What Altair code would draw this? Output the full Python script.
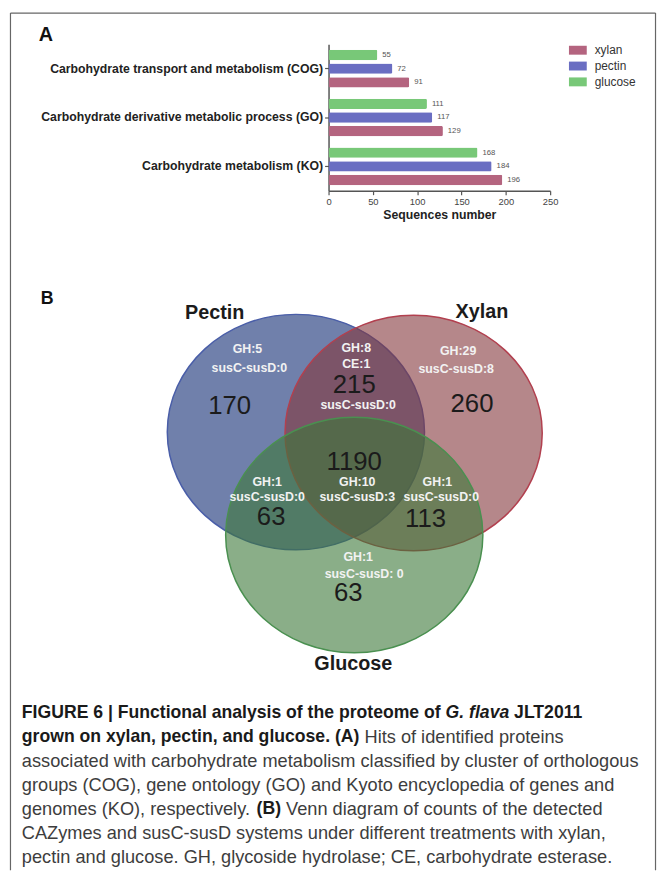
import altair as alt
import pandas as pd

# ---------------- values ----------------
categories = [
    "Carbohydrate transport and metabolism (COG)",
    "Carbohydrate derivative metabolic process (GO)",
    "Carbohydrate metabolism (KO)",
]
series_names = ["xylan", "pectin", "glucose"]
xylan_counts = [91, 129, 196]
pectin_counts = [72, 117, 184]
glucose_counts = [55, 111, 168]
x_tick_values = [0, 50, 100, 150, 200, 250]
x_axis_title = "Sequences number"

set_names = ["Pectin", "Xylan", "Glucose"]
region_counts = [170, 215, 260, 1190, 63, 113, 63]          # P, PX, X, PXG, PG, XG, G
region_gh = ["GH:5", "GH:8", "GH:29", "GH:10", "GH:1", "GH:1", "GH:1"]
region_ce = ["", "CE:1", "", "", "", "", ""]
region_sus = ["susC-susD:0", "susC-susD:0", "susC-susD:8", "susC-susD:3",
              "susC-susD:0", "susC-susD:0", "susC-susD: 0"]

panel_letters = ["A", "B"]

caption_lines = [
    [("FIGURE 6 | Functional analysis of the proteome of ", "b"), ("G. flava", "bi"), (" JLT2011", "b")],
    [("grown on xylan, pectin, and glucose. (A)", "b"), (" Hits of identified proteins", "r")],
    [("associated with carbohydrate metabolism classified by cluster of orthologous", "r")],
    [("groups (COG), gene ontology (GO) and Kyoto encyclopedia of genes and", "r")],
    [("genomes (KO), respectively. ", "r"), ("(B)", "b"), (" Venn diagram of counts of the detected", "r")],
    [("CAZymes and susC-susD systems under different treatments with xylan,", "r")],
    [("pectin and glucose. GH, glycoside hydrolase; CE, carbohydrate esterase.", "r")],
]

# ---------------- layout & style ----------------
OFF = 8
W, H = 656, 867


def c(v):
    return v - OFF


FONT = "Liberation Sans"
bar_colors = ["#b4647f", "#6a6ec2", "#78c878"]
BAR_X_RANGE = [c(332), c(556)]
BAR_Y_RANGE = [c(40), c(188)]

venn_centers = [(299, 432), (418, 433), (358, 536)]
venn_rx, venn_ry = 130, 119
venn_fill = ["#112b73", "#84373c", "#3c7839"]
venn_stroke = ["#4a5ea8", "#b2404f", "#4a9050"]
set_label_pos = [(217, 312), (487, 311), (357, 666)]
count_pos = [(232, 406), (358, 384), (477, 404), (358, 462), (274, 518), (430, 520), (352, 595)]
gh_pos = [(250, 348), (360, 347), (463, 350), (361, 482), (270, 482), (442, 482), (362, 558)]
ce_pos = [None, (360, 363), None, None, None, None, None]
sus_pos = [(252, 367), (362, 405), (461, 368), (361, 498), (270, 498), (446, 498), (368, 575)]
letter_pos = [(39, 31, 20), (41, 298, 18)]

CAP_X0, CAP_Y0, CAP_DY = 22, 716, 24.2
CAP_REG_SIZE, CAP_BOLD_SIZE = 18.4, 17.8

# Arial / Liberation Sans advance widths (1/1000 em) for placing caption runs
_lo = "abcdefghijklmnopqrstuvwxyz"
_up = "ABCDEFGHIJKLMNOPQRSTUVWXYZ"
_REG = dict(zip(_lo, [556, 556, 500, 556, 556, 278, 556, 556, 222, 222, 500, 222, 833,
                      556, 556, 556, 556, 333, 500, 278, 556, 500, 722, 500, 500, 500]))
_REG.update(zip(_up, [667, 667, 722, 722, 667, 611, 778, 722, 278, 500, 667, 556, 833,
                      722, 778, 667, 778, 722, 667, 611, 722, 667, 944, 667, 667, 611]))
_REG.update({" ": 278, ".": 278, ",": 278, "(": 333, ")": 333, "-": 333, ":": 278, ";": 278, "|": 260})
_BOLD = dict(zip(_lo, [556, 611, 556, 611, 556, 333, 611, 611, 278, 278, 556, 278, 889,
                       611, 611, 611, 611, 389, 556, 333, 611, 556, 778, 556, 556, 500]))
_BOLD.update(zip(_up, [722, 722, 722, 722, 667, 611, 778, 722, 278, 556, 722, 611, 833,
                       722, 778, 667, 778, 722, 667, 611, 722, 667, 944, 667, 667, 611]))
_BOLD.update({" ": 278, ".": 278, ",": 278, "(": 333, ")": 333, "-": 333, ":": 333, ";": 333, "|": 280})
for _d in "0123456789":
    _REG[_d] = 556
    _BOLD[_d] = 556


def text_width(s, style):
    table = _REG if style == "r" else _BOLD
    size = CAP_REG_SIZE if style == "r" else CAP_BOLD_SIZE
    return sum(table.get(ch, 556) for ch in s) * size / 1000.0


# ---------------- scales ----------------
px_x = alt.Scale(domain=[0, W], range=[0, W], nice=False, zero=False)
px_y = alt.Scale(domain=[0, H], range=[0, H], nice=False, zero=False)

# ---------------- panel A: grouped bars ----------------
rows = []
for i, cat in enumerate(categories):
    for s, vals in zip(series_names, [xylan_counts, pectin_counts, glucose_counts]):
        rows.append({"category": cat, "series": s, "value": vals[i]})
bars_df = pd.DataFrame(rows)

y_enc = alt.Y(
    "category:N", sort=categories,
    scale=alt.Scale(domain=categories, range=BAR_Y_RANGE, paddingInner=0.2, paddingOuter=0.1),
    axis=alt.Axis(title=None, offset=-BAR_X_RANGE[0], labelFont=FONT, labelFontSize=12.4,
                  labelFontWeight="bold", labelColor="#222", labelLimit=400, tickSize=4,
                  tickColor="#555", tickWidth=1.2, domainColor="#555", domainWidth=1.5,
                  labelPadding=2, grid=False),
)
yoff_enc = alt.YOffset(
    "series:N", sort=["glucose", "pectin", "xylan"],
    scale=alt.Scale(domain=["glucose", "pectin", "xylan"], paddingInner=0.25, paddingOuter=0.05),
)
x_enc = alt.X(
    "value:Q",
    scale=alt.Scale(domain=[0, 250], range=BAR_X_RANGE, nice=False, zero=True),
    axis=alt.Axis(values=x_tick_values, offset=BAR_Y_RANGE[1] - H, title=x_axis_title,
                  titleFont=FONT, titleFontSize=12.4, titleFontWeight="bold", titleColor="#222",
                  titlePadding=3, labelFont=FONT, labelFontSize=9.5, labelColor="#444",
                  labelFlush=False, labelPadding=2, tickSize=4, tickColor="#555", tickWidth=1.2,
                  domainColor="#555", domainWidth=1.5, grid=False),
)
color_enc = alt.Color(
    "series:N",
    scale=alt.Scale(domain=series_names, range=bar_colors),
    legend=alt.Legend(orient="none", legendX=c(576.5), legendY=c(38.5), title=None,
                      symbolType="M-1.2,-0.6H1.2V0.6H-1.2Z", symbolSize=225,
                      symbolStrokeWidth=0, symbolOpacity=1, labelFont=FONT,
                      labelFontSize=12, labelColor="#333", rowPadding=2,
                      labelOffset=9.5, padding=0),
)

bars = alt.Chart(bars_df).mark_bar(cornerRadius=1.5).encode(
    x=x_enc, y=y_enc, yOffset=yoff_enc, color=color_enc
)
bar_labels = alt.Chart(bars_df).mark_text(
    align="left", baseline="middle", dx=5, fontSize=7.8, color="#555", font=FONT
).encode(x=alt.X("value:Q"), y=alt.Y("category:N", sort=categories),
         yOffset=alt.YOffset("series:N", sort=["glucose", "pectin", "xylan"]), text="value:Q")

panel_a = alt.layer(bars, bar_labels)

# ---------------- panel B: Venn diagram ----------------
ratio = venn_ry / venn_rx
ELLIPSE = f"M-1,0A1,{ratio:.4f},0,1,0,1,0A1,{ratio:.4f},0,1,0,-1,0Z"
sets_df = pd.DataFrame({
    "name": set_names,
    "x": [c(p[0]) for p in venn_centers],
    "y": [c(p[1]) for p in venn_centers],
    "fill": venn_fill,
    "stroke": venn_stroke,
    "order": [0, 1, 2],
})
ellipses = alt.Chart(sets_df).mark_point(
    shape=ELLIPSE, filled=True, size=(2 * venn_rx) ** 2, opacity=1,
    fillOpacity=0.6, strokeOpacity=1, strokeWidth=1.5,
).encode(
    x=alt.X("x:Q", scale=px_x, axis=None),
    y=alt.Y("y:Q", scale=px_y, axis=None),
    fill=alt.Fill("fill:N", scale=None),
    stroke=alt.Stroke("stroke:N", scale=None),
    order=alt.Order("order:Q"),
)


def text_layer(df, **kw):
    return alt.Chart(df).mark_text(baseline="middle", font=FONT, **kw).encode(
        x=alt.X("x:Q", scale=px_x, axis=None),
        y=alt.Y("y:Q", scale=px_y, axis=None),
        text="text:N",
    )


set_label_df = pd.DataFrame({
    "x": [c(p[0]) for p in set_label_pos], "y": [c(p[1]) for p in set_label_pos],
    "text": set_names})
count_df = pd.DataFrame({
    "x": [c(p[0]) for p in count_pos], "y": [c(p[1]) for p in count_pos],
    "text": [str(v) for v in region_counts]})
note_rows = []
for i in range(len(region_counts)):
    for label, pos in ((region_gh[i], gh_pos[i]), (region_ce[i], ce_pos[i]), (region_sus[i], sus_pos[i])):
        if label and pos:
            note_rows.append({"x": c(pos[0]), "y": c(pos[1]), "text": label})
note_df = pd.DataFrame(note_rows)

venn = alt.layer(
    ellipses,
    text_layer(note_df, align="center", fontSize=12.5, fontWeight="bold", color="#f2f2f2"),
    text_layer(count_df, align="center", fontSize=26, color="#1b1b1b"),
    text_layer(set_label_df, align="center", fontSize=20, fontWeight="bold", color="#1b1b1b"),
)

# ---------------- letters, caption, frame ----------------
letters = alt.layer(*[
    text_layer(pd.DataFrame({"x": [c(p[0])], "y": [c(p[1])], "text": [t]}),
               align="left", fontSize=p[2], fontWeight="bold", color="#111")
    for t, p in zip(panel_letters, letter_pos)
])

cap_rows = []
for li, segs in enumerate(caption_lines):
    xpos = CAP_X0
    for txt, style in segs:
        lead = txt[: len(txt) - len(txt.lstrip(" "))]
        xpos += text_width(lead, style)
        body = txt.strip(" ")
        cap_rows.append({"x": c(xpos), "y": c(CAP_Y0 + li * CAP_DY), "text": body, "style": style})
        xpos += text_width(txt.lstrip(" "), style)
cap_df = pd.DataFrame(cap_rows)

caption = alt.layer(
    text_layer(cap_df[cap_df["style"] == "r"], align="left", fontSize=CAP_REG_SIZE, color="#3d3d3d"),
    text_layer(cap_df[cap_df["style"] == "b"], align="left", fontSize=CAP_BOLD_SIZE,
               fontWeight="bold", color="#1a1a1a"),
    text_layer(cap_df[cap_df["style"] == "bi"], align="left", fontSize=CAP_BOLD_SIZE,
               fontWeight="bold", fontStyle="italic", color="#1a1a1a"),
)

frame_df = pd.DataFrame({
    "x": [c(10.5), c(10.5), c(662.5)],
    "x2": [c(662.5), c(10.5), c(662.5)],
    "y": [c(8.5), c(8.5), c(8.5)],
    "y2": [c(8.5), H, H],
})
frame = alt.Chart(frame_df).mark_rule(color="#666", strokeWidth=1.2).encode(
    x=alt.X("x:Q", scale=px_x, axis=None), x2="x2:Q",
    y=alt.Y("y:Q", scale=px_y, axis=None), y2="y2:Q",
)

px_group = alt.layer(frame, venn, letters, caption)

chart = alt.layer(panel_a, px_group).resolve_scale(
    x="independent", y="independent"
).properties(
    width=W, height=H, padding=0, autosize=alt.AutoSizeParams(type="none")
).configure_view(stroke=None)

chart.save("out.html", embed_options={"renderer": "svg", "actions": False})
